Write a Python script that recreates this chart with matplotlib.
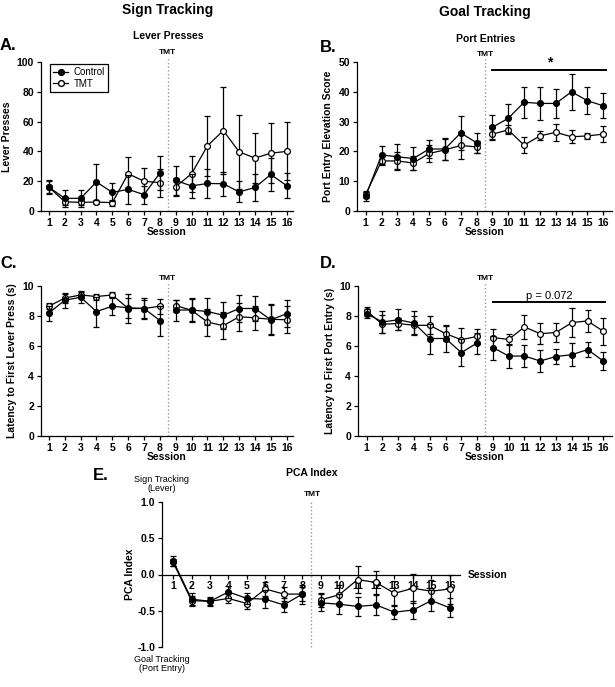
import numpy as np
import matplotlib
matplotlib.use('Agg')
import matplotlib.pyplot as plt
from matplotlib.lines import Line2D

plt.rcParams['font.family'] = ['Liberation Sans', 'DejaVu Sans']
plt.rcParams['font.weight'] = 'bold'
plt.rcParams['axes.labelweight'] = 'bold'

sessions = np.arange(1, 17)

# A. lever presses
lever_ctrl = [16, 8.5, 8.5, 19.5, 12.5, 14.5, 11, 25.5, 20.5, 16.8, 18.5, 18.3, 12.8, 15.8, 24.5, 17]
lever_ctrl_err = [4.5, 5.5, 5.5, 12, 6, 9.5, 6, 11.5, 10, 8, 10, 8, 7, 9, 11, 8.5]
lever_tmt = [16, 6.2, 5.8, 6, 5.6, 25, 20, 19, 16.3, 25, 43.7, 54, 39.7, 35.5, 38.8, 40]
lever_tmt_err = [4, 2, 1.5, 1, 2, 11.5, 9, 9.4, 6, 12, 20, 29, 25, 17, 20, 19.5]

# B. port entry elevation score
port_ctrl = [5, 18.8, 18.2, 17.6, 20.8, 20.8, 26.2, 22.9, 28.1, 31.1, 36.5, 36.1, 36.1, 40, 37, 35.3]
port_ctrl_err = [1.5, 3, 4.2, 3.8, 3, 3.7, 5.6, 3.3, 4, 4.8, 5.2, 5.5, 5, 6, 4.5, 4.2]
port_tmt = [5.6, 16.8, 16.8, 16.1, 19.3, 20.5, 22, 21.5, 25.8, 27.2, 22.1, 25.2, 26.4, 24.9, 25.2, 25.8]
port_tmt_err = [1.2, 1.5, 3, 2.5, 3, 3.5, 4.5, 2, 2, 1.5, 2.7, 1.5, 2.8, 2.2, 1, 2.8]

# C. latency to first lever press
latlev_ctrl = [8.2, 9.05, 9.25, 8.3, 8.65, 8.55, 8.5, 7.7, 8.4, 8.4, 8.3, 8.05, 8.5, 8.5, 7.75, 8.15]
latlev_ctrl_err = [0.5, 0.5, 0.4, 1.0, 0.6, 0.65, 0.7, 1.0, 0.7, 0.75, 0.9, 0.9, 0.9, 0.85, 1.0, 0.9]
latlev_tmt = [8.65, 9.2, 9.4, 9.3, 9.4, 8.5, 8.5, 8.65, 8.7, 8.38, 7.6, 7.35, 7.95, 7.88, 7.78, 7.75]
latlev_tmt_err = [0.2, 0.3, 0.2, 0.2, 0.2, 0.95, 0.6, 0.5, 0.4, 0.8, 0.9, 0.9, 0.95, 0.8, 1.0, 0.9]

# D. latency to first port entry
latport_ctrl = [8.15, 7.6, 7.75, 7.53, 6.5, 6.5, 5.56, 6.2, 5.9, 5.33, 5.33, 5.0, 5.3, 5.42, 5.76, 5.0]
latport_ctrl_err = [0.3, 0.75, 0.7, 0.8, 1.0, 0.9, 0.9, 0.7, 0.8, 0.8, 0.75, 0.75, 0.5, 0.75, 0.5, 0.6]
latport_tmt = [8.33, 7.45, 7.5, 7.38, 7.38, 6.82, 6.42, 6.64, 6.56, 6.44, 7.27, 6.82, 6.9, 7.56, 7.67, 6.98]
latport_tmt_err = [0.3, 0.6, 0.4, 0.6, 0.6, 0.5, 0.8, 0.5, 0.6, 0.35, 0.8, 0.7, 0.65, 0.95, 0.75, 0.9]

# E. PCA index
pca_ctrl = [0.19, -0.34, -0.37, -0.24, -0.33, -0.34, -0.42, -0.27, -0.39, -0.41, -0.44, -0.42, -0.52, -0.49, -0.36, -0.46]
pca_ctrl_err = [0.07, 0.08, 0.06, 0.08, 0.08, 0.12, 0.1, 0.13, 0.12, 0.14, 0.13, 0.14, 0.1, 0.12, 0.14, 0.13]
pca_tmt = [0.17, -0.36, -0.37, -0.33, -0.40, -0.20, -0.27, -0.27, -0.35, -0.28, -0.07, -0.11, -0.26, -0.19, -0.23, -0.20]
pca_tmt_err = [0.05, 0.07, 0.05, 0.06, 0.08, 0.1, 0.1, 0.1, 0.1, 0.13, 0.19, 0.16, 0.17, 0.2, 0.15, 0.2]

W, H = 615, 687
fig = plt.figure(figsize=(W / 100, H / 100), dpi=100)
fig.patch.set_facecolor('white')


def px_axes(l, t, r, b):
    return fig.add_axes([l / W, 1 - b / H, (r - l) / W, (b - t) / H])


def ftext(x, y, s, **kw):
    fig.text(x / W, 1 - y / H, s, ha=kw.pop('ha', 'center'), va=kw.pop('va', 'center'), **kw)


def draw_series(ax, y, err, filled):
    y = np.asarray(y)
    err = np.asarray(err)
    fc = 'black' if filled else 'white'
    # pre and post TMT segments are drawn separately
    for seg in (slice(0, 8), slice(8, 16)):
        ax.errorbar(sessions[seg], y[seg], yerr=err[seg], color='black', lw=0.9,
                    elinewidth=0.9, capsize=2, capthick=0.9, marker='o', ms=4.2,
                    mfc=fc, mec='black', mew=0.9, zorder=3 if filled else 2,
                    clip_on=False)


def style_axes(ax, ylim, yticks, xlim):
    for s in ('top', 'right'):
        ax.spines[s].set_visible(False)
    for s in ('left', 'bottom'):
        ax.spines[s].set_linewidth(0.9)
    ax.set_xlim(*xlim)
    ax.set_ylim(*ylim)
    ax.set_xticks(sessions)
    ax.set_yticks(yticks)
    ax.tick_params(direction='out', length=3, width=0.9, labelsize=7.5, pad=2)


def tmt_line(ax, top=1.03):
    ax.axvline(8.5, ymin=0, ymax=top, ls=':', color='0.6', lw=1, clip_on=False, zorder=1)


# ---- A
axA = px_axes(41, 62, 293, 211)
draw_series(axA, lever_tmt, lever_tmt_err, False)
draw_series(axA, lever_ctrl, lever_ctrl_err, True)
style_axes(axA, (0, 100), np.arange(0, 101, 20), (0.5, 16.4))
tmt_line(axA)
axA.set_ylabel('Lever Presses', fontsize=7.5)
axA.yaxis.set_label_coords(-0.115, 0.5)
axA.set_xlabel('Session', fontsize=7.5)
axA.xaxis.set_label_coords(0.5, -0.11)
handles = [Line2D([], [], color='black', lw=0.9, marker='o', ms=4.2, mfc='black', mec='black'),
           Line2D([], [], color='black', lw=0.9, marker='o', ms=4.2, mfc='white', mec='black')]
axA.legend(handles, ['Control', 'TMT'], loc='upper left', bbox_to_anchor=(50 / W, 1 - 64 / H),
           bbox_transform=fig.transFigure, borderaxespad=0, fancybox=False, edgecolor='black',
           framealpha=1, handlelength=1.6, handletextpad=0.5, borderpad=0.3, labelspacing=0.2,
           prop={'size': 7, 'weight': 'normal'}).get_frame().set_linewidth(0.9)

# ---- B
axB = px_axes(357, 62, 612, 211)
draw_series(axB, port_tmt, port_tmt_err, False)
draw_series(axB, port_ctrl, port_ctrl_err, True)
style_axes(axB, (0, 50), np.arange(0, 51, 10), (0.45, 16.55))
tmt_line(axB)
axB.set_ylabel('Port Entry Elevation Score', fontsize=7.5)
axB.yaxis.set_label_coords(-0.094, 0.5)
axB.set_xlabel('Session', fontsize=7.5)
axB.xaxis.set_label_coords(0.5, -0.11)
axB.plot([9, 16.2], [47.3, 47.3], color='black', lw=1.4, clip_on=False)
axB.text(12.6, 47.6, '*', ha='center', va='bottom', fontsize=10)

# ---- C
axC = px_axes(41, 286, 293, 436)
draw_series(axC, latlev_tmt, latlev_tmt_err, False)
draw_series(axC, latlev_ctrl, latlev_ctrl_err, True)
style_axes(axC, (0, 10), np.arange(0, 11, 2), (0.5, 16.4))
tmt_line(axC)
axC.set_ylabel('Latency to First Lever Press (s)', fontsize=7.5)
axC.yaxis.set_label_coords(-0.095, 0.5)
axC.set_xlabel('Session', fontsize=7.5)
axC.xaxis.set_label_coords(0.5, -0.105)

# ---- D
axD = px_axes(358, 286, 612, 436)
draw_series(axD, latport_tmt, latport_tmt_err, False)
draw_series(axD, latport_ctrl, latport_ctrl_err, True)
style_axes(axD, (0, 10), np.arange(0, 11, 2), (0.45, 16.55))
tmt_line(axD)
axD.set_ylabel('Latency to First Port Entry (s)', fontsize=7.5)
axD.yaxis.set_label_coords(-0.09, 0.5)
axD.set_xlabel('Session', fontsize=7.5)
axD.xaxis.set_label_coords(0.5, -0.105)
axD.plot([9, 16.1], [8.93, 8.93], color='black', lw=1.4, clip_on=False)
axD.text(12.55, 9.0, 'p = 0.072', ha='center', va='bottom', fontsize=8, fontweight='normal')

# ---- E
axE = px_axes(162, 502, 460, 647)
draw_series(axE, pca_tmt, pca_tmt_err, False)
draw_series(axE, pca_ctrl, pca_ctrl_err, True)
style_axes(axE, (-1, 1), [-1.0, -0.5, 0.0, 0.5, 1.0], (0.4, 16.55))
axE.spines['bottom'].set_position(('data', 0))
axE.yaxis.set_major_formatter(matplotlib.ticker.FormatStrFormatter('%.1f'))
tmt_line(axE, top=1.0)
axE.set_ylabel('PCA Index', fontsize=7.5)
axE.yaxis.set_label_coords(-0.09, 0.5)
axE.text(16.95, 0, 'Session', ha='left', va='center', fontsize=7.5, clip_on=False)

# titles and labels
ftext(168, 10, 'Sign Tracking', fontsize=10)
ftext(485, 12, 'Goal Tracking', fontsize=10)
ftext(168, 36, 'Lever Presses', fontsize=7.5)
ftext(486, 39, 'Port Entries', fontsize=7.5)
ftext(312, 473, 'PCA Index', fontsize=7.5)
for x, y in [(167, 53), (485, 54), (167, 278), (485, 278)]:
    ftext(x, y, 'TMT', fontsize=6)
ftext(312, 494, 'TMT', fontsize=6)
ftext(0, 45, 'A.', fontsize=12, ha='left')
ftext(320, 47, 'B.', fontsize=12, ha='left')
ftext(0, 263, 'C.', fontsize=12, ha='left')
ftext(320, 263, 'D.', fontsize=12, ha='left')
ftext(93, 475, 'E.', fontsize=12, ha='left')
ftext(162, 484, 'Sign Tracking\n(Lever)', fontsize=6.5, fontweight='normal', linespacing=1.1)
ftext(162, 664, 'Goal Tracking\n(Port Entry)', fontsize=6.5, fontweight='normal', linespacing=1.1)

fig.savefig('out.png', dpi=100, facecolor='white')
